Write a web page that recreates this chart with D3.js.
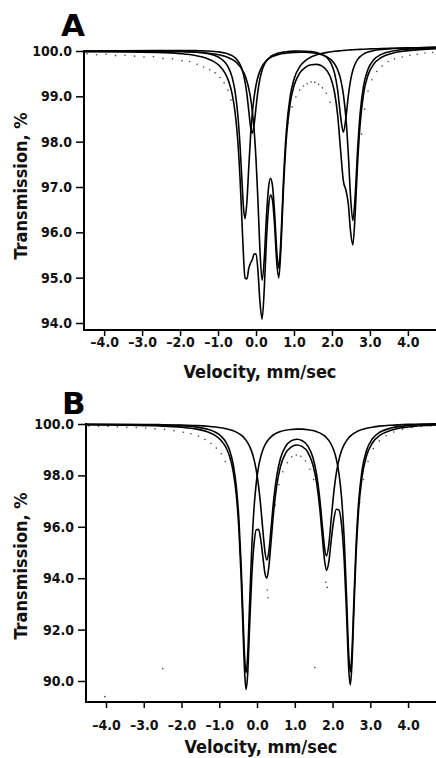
<!DOCTYPE html>
<html>
<head>
<meta charset="utf-8">
<script src="https://cdn.jsdelivr.net/npm/d3@7/dist/d3.min.js"></script>
<style>
  body { margin: 0; background: #fff; }
  svg { display: block; }
  .axis text { font-family: "DejaVu Sans Condensed", "DejaVu Sans", sans-serif; font-stretch: condensed; font-weight: bold; font-size: 14px; fill: #111; }
  .title { font-family: "DejaVu Sans Condensed", "DejaVu Sans", sans-serif; font-stretch: condensed; font-weight: bold; font-size: 18px; fill: #111; }
  .panel-letter { font-family: "DejaVu Sans", sans-serif; font-weight: bold; font-size: 31px; fill: #000; }
</style>
</head>
<body>
<svg id="chart" width="436" height="758"></svg>
<script>
// ---- panel A : velocity grid (mm/sec) and fitted transmission (%) ----
const velA = [-4.53, -3.5, -2.6, -2.0, -1.6, -1.3, -1.1, -0.95, -0.82, -0.72, -0.63, -0.55, -0.48, -0.42, -0.37, -0.33,
  -0.29, -0.24, -0.19, -0.14, -0.10, -0.05, 0.0, 0.05, 0.10, 0.16, 0.22, 0.27, 0.33, 0.38, 0.43, 0.49, 0.55, 0.60,
  0.66, 0.72, 0.80, 0.90, 1.0, 1.15, 1.3, 1.45, 1.6, 1.75, 1.88, 1.98, 2.07, 2.15, 2.23, 2.30, 2.37, 2.43, 2.49,
  2.55, 2.61, 2.67, 2.74, 2.83, 2.95, 3.1, 3.3, 3.6, 4.0, 4.74];
const totalA = [99.982, 99.981, 99.969, 99.942, 99.901, 99.839, 99.761, 99.662, 99.517, 99.332, 99.055, 98.638, 98.020,
  97.179, 96.240, 95.483, 95.000, 94.972, 95.209, 95.331, 95.390, 95.521, 95.525, 95.167, 94.508, 94.085, 94.796,
  95.742, 96.553, 96.821, 96.726, 96.147, 95.293, 94.996, 95.719, 96.906, 98.080, 98.849, 99.232, 99.511, 99.639,
  99.697, 99.704, 99.660, 99.551, 99.378, 99.079, 98.585, 97.783, 97.136, 96.922, 96.629, 96.020, 95.721, 96.387,
  97.439, 98.370, 99.042, 99.469, 99.711, 99.857, 99.952, 100.008, 100.053];
const siteA1 = [99.994, 100.000, 100.000, 99.992, 99.976, 99.946, 99.904, 99.846, 99.753, 99.625, 99.423, 99.100, 98.599,
  97.901, 97.128, 96.549, 96.301, 96.675, 97.449, 98.167, 98.600, 98.985, 99.245, 99.425, 99.551, 99.659, 99.734,
  99.782, 99.825, 99.853, 99.876, 99.897, 99.914, 99.926, 99.938, 99.946, 99.956, 99.965, 99.970, 99.974, 99.971,
  99.963, 99.945, 99.914, 99.865, 99.803, 99.713, 99.585, 99.370, 99.050, 98.500, 97.742, 96.783, 96.261, 96.785,
  97.745, 98.605, 99.218, 99.599, 99.806, 99.925, 99.999, 100.040, 100.072];
const siteA2 = [99.997, 100.005, 100.011, 100.011, 100.008, 100.000, 99.990, 99.976, 99.956, 99.931, 99.897, 99.850,
  99.786, 99.702, 99.600, 99.484, 99.325, 99.048, 98.676, 98.310, 98.187, 98.373, 98.756, 99.113, 99.371, 99.576,
  99.704, 99.777, 99.838, 99.873, 99.901, 99.925, 99.944, 99.956, 99.967, 99.976, 99.985, 99.992, 99.997, 100.000,
  99.996, 99.987, 99.966, 99.923, 99.844, 99.722, 99.505, 99.134, 98.541, 98.211, 98.543, 99.007, 99.353, 99.575,
  99.714, 99.805, 99.875, 99.932, 99.977, 100.009, 100.034, 100.054, 100.068, 100.084];
const siteA3 = [99.992, 99.996, 99.996, 99.988, 99.975, 99.957, 99.935, 99.912, 99.883, 99.851, 99.814, 99.769, 99.717,
  99.657, 99.596, 99.533, 99.457, 99.335, 99.170, 98.942, 98.692, 98.254, 97.614, 96.721, 95.678, 94.944, 95.452,
  96.279, 96.988, 97.193, 97.050, 96.425, 95.537, 95.217, 95.918, 97.088, 98.245, 99.001, 99.375, 99.652, 99.788,
  99.867, 99.915, 99.949, 99.970, 99.983, 99.993, 100.000, 100.007, 100.012, 100.017, 100.021, 100.024, 100.027,
  100.030, 100.033, 100.036, 100.040, 100.044, 100.048, 100.054, 100.061, 100.069, 100.082];
const dotVelA = [-4.45, -4.2, -3.95, -3.7, -3.45, -3.2, -2.95, -2.7, -2.45, -2.2, -1.95, -1.75, -1.55, -1.38, -1.22,
  -1.08, -0.95, -0.84, -0.74, -0.66, 0.85, 0.95, 1.05, 1.15, 1.25, 1.35, 1.45, 1.55, 1.65, 1.75, 1.85, 1.95, 2.78,
  2.86, 2.95, 3.05, 3.18, 3.32, 3.48, 3.65, 3.85, 4.05, 4.25, 4.45, 4.65];
const dotTransA = [99.97, 99.95, 99.96, 99.93, 99.94, 99.92, 99.90, 99.91, 99.87, 99.86, 99.82, 99.80, 99.74, 99.68,
  99.62, 99.55, 99.45, 99.33, 99.17, 98.95, 98.45, 98.80, 99.02, 99.17, 99.26, 99.31, 99.35, 99.34, 99.30, 99.22,
  99.10, 98.90, 98.20, 98.75, 99.15, 99.40, 99.58, 99.70, 99.80, 99.86, 99.90, 99.94, 99.96, 99.99, 100.00];

// ---- panel B ----
const velB = [-4.53, -3.5, -2.6, -2.0, -1.6, -1.3, -1.1, -0.95, -0.82, -0.72, -0.63, -0.55, -0.48, -0.42, -0.37, -0.33,
  -0.29, -0.25, -0.20, -0.14, -0.08, -0.02, 0.04, 0.10, 0.16, 0.21, 0.26, 0.31, 0.37, 0.44, 0.52, 0.62, 0.75, 0.90,
  1.05, 1.20, 1.35, 1.48, 1.58, 1.66, 1.73, 1.79, 1.84, 1.90, 1.97, 2.04, 2.10, 2.17, 2.24, 2.31, 2.37, 2.43, 2.47,
  2.51, 2.56, 2.62, 2.69, 2.78, 2.90, 3.05, 3.25, 3.55, 4.0, 4.74];
const totalB = [99.969, 99.956, 99.925, 99.874, 99.800, 99.687, 99.545, 99.359, 99.080, 98.709, 98.138, 97.246, 95.888,
  94.017, 91.946, 90.384, 89.667, 90.221, 92.001, 94.058, 95.323, 95.883, 95.902, 95.484, 94.762, 94.185, 94.000,
  94.401, 95.393, 96.590, 97.590, 98.341, 98.844, 99.103, 99.181, 99.121, 98.883, 98.410, 97.696, 96.743, 95.602,
  94.669, 94.304, 94.625, 95.551, 96.341, 96.683, 96.646, 96.052, 94.660, 92.644, 90.429, 89.849, 90.542, 92.510,
  94.835, 96.648, 97.931, 98.764, 99.252, 99.554, 99.755, 99.881, 99.961];
const siteB1 = [99.984, 99.978, 99.961, 99.928, 99.877, 99.792, 99.679, 99.525, 99.282, 98.949, 98.422, 97.582, 96.282,
  94.473, 92.466, 90.966, 90.323, 90.964, 92.881, 95.155, 96.722, 97.708, 98.331, 98.739, 99.017, 99.183, 99.310,
  99.409, 99.501, 99.581, 99.648, 99.707, 99.756, 99.789, 99.802, 99.799, 99.779, 99.745, 99.702, 99.654, 99.597,
  99.538, 99.467, 99.362, 99.192, 98.946, 98.633, 98.067, 97.121, 95.488, 93.324, 90.997, 90.357, 90.998, 92.913,
  95.185, 96.950, 98.183, 98.969, 99.414, 99.678, 99.843, 99.939, 99.995];
const siteB2 = [99.986, 99.983, 99.974, 99.959, 99.938, 99.911, 99.883, 99.853, 99.817, 99.779, 99.736, 99.684, 99.627,
  99.565, 99.501, 99.439, 99.366, 99.278, 99.142, 98.925, 98.623, 98.198, 97.594, 96.769, 95.769, 95.026, 94.714,
  95.016, 95.917, 97.034, 97.967, 98.660, 99.114, 99.342, 99.407, 99.351, 99.133, 98.695, 98.024, 97.120, 96.036,
  95.162, 94.870, 95.295, 96.390, 97.428, 98.084, 98.612, 98.965, 99.206, 99.355, 99.467, 99.527, 99.578, 99.632,
  99.685, 99.734, 99.784, 99.832, 99.876, 99.916, 99.952, 99.985, 100.012];
const dotVelB = [-4.45, -4.2, -3.95, -3.7, -3.45, -3.2, -2.95, -2.7, -2.45, -2.2, -1.95, -1.75, -1.55, -1.38, -1.22,
  -1.08, -0.95, -0.84, 0.48, 0.58, 0.68, 0.80, 0.92, 1.04, 1.16, 1.28, 1.40, 1.50, 0.27, 0.29, 1.82, 1.86, 2.72,
  2.82, 2.94, 3.08, 3.24, 3.42, 3.62, 3.85, 4.10, 4.35, 4.60, -2.5, 1.53, -4.03];
const dotTransB = [99.98, 99.97, 99.96, 99.95, 99.93, 99.92, 99.90, 99.87, 99.85, 99.80, 99.74, 99.68, 99.58, 99.46,
  99.30, 99.12, 98.90, 98.60, 96.90, 97.70, 98.20, 98.55, 98.78, 98.85, 98.80, 98.62, 98.30, 97.90, 93.60, 93.30,
  93.90, 93.70, 97.00, 97.90, 98.60, 99.10, 99.40, 99.60, 99.75, 99.85, 99.92, 99.96, 99.98, 90.54, 90.58, 89.45];

// ---- ticks ----
const velTicks = [-4, -3, -2, -1, 0, 1, 2, 3, 4];
const transTicksA = [94, 95, 96, 97, 98, 99, 100];
const transTicksB = [90, 92, 94, 96, 98, 100];
const velDomain = [-4.53, 4.74];

const svg = d3.select("#chart");

const fmtVel = d => (d < 0 ? "\u2013" + Math.abs(d).toFixed(1) : d.toFixed(1));

function drawPanel(p) {
  const x = d3.scaleLinear().domain(velDomain).range([p.left, p.right]);
  const y = d3.scaleLinear().domain(p.yDomain).range(p.yRange);
  const g = svg.append("g");

  const line = d3.line()
    .x(d => x(d[0]))
    .y(d => y(d[1]))
    .curve(d3.curveMonotoneX);

  // data points
  g.append("g")
    .selectAll("circle")
    .data(p.dotVel.map((v, i) => [v, p.dotTrans[i]]))
    .join("circle")
    .attr("cx", d => x(d[0]))
    .attr("cy", d => y(d[1]) + 1.5)
    .attr("r", 0.8)
    .attr("fill", "#444");

  // fitted curves
  p.curves.forEach(c => {
    g.append("path")
      .datum(p.vel.map((v, i) => [v, c[i]]))
      .attr("fill", "none")
      .attr("stroke", "#000")
      .attr("stroke-width", 1.6)
      .attr("stroke-linejoin", "round")
      .attr("d", line);
  });

  // y axis
  g.append("g")
    .attr("class", "axis")
    .attr("transform", `translate(${p.left},0)`)
    .call(d3.axisLeft(y).tickValues(p.yTicks).tickSize(8).tickPadding(4).tickFormat(d3.format(".1f")))
    .call(a => a.select(".domain").remove())
    .call(a => a.selectAll("line").attr("stroke", "#000").attr("stroke-width", 1.5));

  // x axis
  g.append("g")
    .attr("class", "axis")
    .attr("transform", `translate(0,${p.bottom})`)
    .call(d3.axisBottom(x).tickValues(velTicks).tickSize(6).tickPadding(p.xPad).tickFormat(fmtVel))
    .call(a => a.select(".domain").remove())
    .call(a => a.selectAll("line").attr("stroke", "#000").attr("stroke-width", 1.5));

  // frame lines
  g.append("line")
    .attr("x1", p.left).attr("x2", p.left)
    .attr("y1", p.axisTop).attr("y2", p.bottom + 1)
    .attr("stroke", "#000").attr("stroke-width", 2);
  g.append("line")
    .attr("x1", p.left - 1).attr("x2", p.right)
    .attr("y1", p.bottom).attr("y2", p.bottom)
    .attr("stroke", "#000").attr("stroke-width", 2);

  // titles
  g.append("text")
    .attr("class", "title")
    .attr("x", (p.left + p.right) / 2)
    .attr("y", p.xTitleY)
    .attr("text-anchor", "middle")
    .text("Velocity, mm/sec");

  g.append("text")
    .attr("class", "title")
    .attr("transform", `translate(27,${p.yTitleY}) rotate(-90)`)
    .attr("text-anchor", "middle")
    .text("Transmission, %");

  g.append("text")
    .attr("class", "panel-letter")
    .attr("x", p.letterX)
    .attr("y", p.letterY)
    .text(p.letter);
}

drawPanel({
  letter: "A", letterX: 61, letterY: 36,
  left: 84, right: 436, bottom: 330, axisTop: 50,
  yDomain: [94, 100], yRange: [323, 51], yTicks: transTicksA,
  xPad: 1, xTitleY: 378, yTitleY: 186,
  vel: velA, curves: [siteA1, siteA2, siteA3, totalA],
  dotVel: dotVelA, dotTrans: dotTransA
});

drawPanel({
  letter: "B", letterX: 62, letterY: 414,
  left: 86, right: 436, bottom: 702, axisTop: 423,
  yDomain: [90, 100], yRange: [681, 424], yTicks: transTicksB,
  xPad: 12, xTitleY: 753, yTitleY: 566,
  vel: velB, curves: [siteB1, siteB2, totalB],
  dotVel: dotVelB, dotTrans: dotTransB
});
</script>
</body>
</html>
